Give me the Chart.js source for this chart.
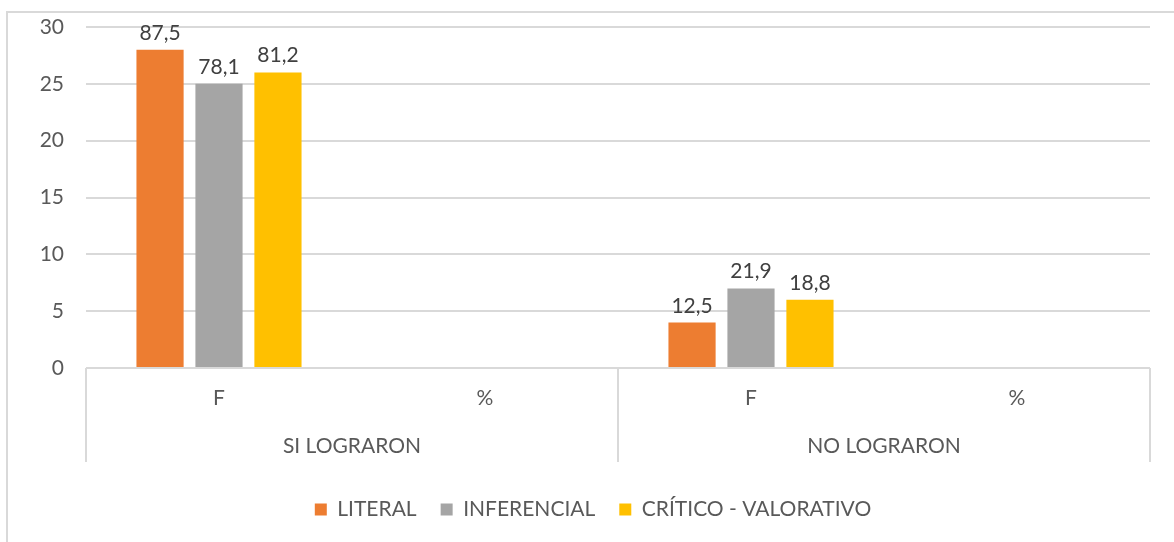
<!DOCTYPE html>
<html>
<head>
<meta charset="utf-8">
<script src="https://cdn.jsdelivr.net/npm/chart.js@4"></script>
<style>
  body { margin: 0; background: #fff; }
  #wrap { position: absolute; left: 0; top: 0; width: 1174px; height: 542px; }
</style>
</head>
<body>
<div id="wrap"><canvas id="chart"></canvas></div>
<script>
// Datos del gráfico
const categorias = ['F', '%', 'F', '%'];
const grupos = ['SI LOGRARON', 'NO LOGRARON'];
const literal = [28, null, 4, null];
const inferencial = [25, null, 7, null];
const critico = [26, null, 6, null];
// etiquetas de porcentaje que se muestran sobre las barras
const literalPct = ['87,5', null, '12,5', null];
const inferencialPct = ['78,1', null, '21,9', null];
const criticoPct = ['81,2', null, '18,8', null];
const ticksY = [0, 5, 10, 15, 20, 25, 30];

const fuente = 'Lato';
const gris = '#595959';
const linea = '#d9d9d9';

// Etiquetas de datos encima de cada barra
const etiquetas = {
  id: 'etiquetas',
  afterDatasetsDraw(chart) {
    const ctx = chart.ctx;
    ctx.save();
    ctx.font = '21px ' + fuente;
    ctx.fillStyle = '#404040';
    ctx.textAlign = 'center';
    ctx.textBaseline = 'alphabetic';
    chart.data.datasets.forEach((ds, i) => {
      const meta = chart.getDatasetMeta(i);
      meta.data.forEach((bar, j) => {
        const txt = ds.etiquetas[j];
        if (txt == null) return;
        ctx.fillText(txt, bar.x, bar.y - 10);
      });
    });
    ctx.restore();
  }
};

// Eje de categorías en dos niveles + borde del gráfico
const ejeGrupos = {
  id: 'ejeGrupos',
  afterDraw(chart) {
    const ctx = chart.ctx;
    const x = chart.scales.x;
    const area = chart.chartArea;
    const porGrupo = categorias.length / grupos.length;
    const limites = [x.left];
    for (let g = 1; g < grupos.length; g++) {
      const k = g * porGrupo;
      limites.push((x.getPixelForTick(k - 1) + x.getPixelForTick(k)) / 2);
    }
    limites.push(x.right);

    ctx.save();
    ctx.strokeStyle = linea;
    ctx.lineWidth = 2;
    limites.forEach(px => {
      ctx.beginPath();
      ctx.moveTo(px, area.bottom);
      ctx.lineTo(px, 462);
      ctx.stroke();
    });

    ctx.font = '21px ' + fuente;
    ctx.fillStyle = gris;
    ctx.textAlign = 'center';
    ctx.textBaseline = 'middle';
    grupos.forEach((g, i) => {
      ctx.fillText(g, (limites[i] + limites[i + 1]) / 2, 446);
    });

    // borde exterior (solo izquierda y arriba quedan a la vista)
    ctx.beginPath();
    ctx.moveTo(7, 542);
    ctx.lineTo(7, 12);
    ctx.lineTo(1174, 12);
    ctx.stroke();
    ctx.restore();
  }
};

const ctx = document.getElementById('chart').getContext('2d');
new Chart(ctx, {
  type: 'bar',
  data: {
    labels: categorias,
    datasets: [
      { label: 'LITERAL', data: literal, etiquetas: literalPct, backgroundColor: '#ED7D31' },
      { label: 'INFERENCIAL', data: inferencial, etiquetas: inferencialPct, backgroundColor: '#A5A5A5' },
      { label: 'CRÍTICO - VALORATIVO', data: critico, etiquetas: criticoPct, backgroundColor: '#FFC000' }
    ]
  },
  options: {
    responsive: true,
    maintainAspectRatio: false,
    animation: false,
    layout: { padding: { top: 27, right: 24, left: 36, bottom: 12 } },
    datasets: { bar: { categoryPercentage: 0.665, barPercentage: 0.8 } },
    scales: {
      x: {
        grid: { display: false },
        border: { display: false },
        ticks: { color: gris, font: { family: fuente, size: 21 }, padding: 10 },
        afterFit(scale) { scale.height = 107; }
      },
      y: {
        min: 0,
        max: 30,
        afterBuildTicks(scale) { scale.ticks = ticksY.map(v => ({ value: v })); },
        grid: { color: linea, lineWidth: 2, drawTicks: false },
        border: { display: false },
        ticks: { color: gris, font: { family: fuente, size: 21 }, padding: 22 },
        afterFit(scale) {
          scale.width = 50;
          scale.paddingTop = 0;
          scale.paddingBottom = 0;
        }
      }
    },
    plugins: {
      legend: {
        position: 'bottom',
        labels: {
          color: gris,
          font: { family: fuente, size: 21 },
          boxWidth: 12,
          boxHeight: 12,
          padding: 24
        }
      },
      tooltip: { enabled: false }
    }
  },
  plugins: [etiquetas, ejeGrupos]
});
</script>
</body>
</html>
